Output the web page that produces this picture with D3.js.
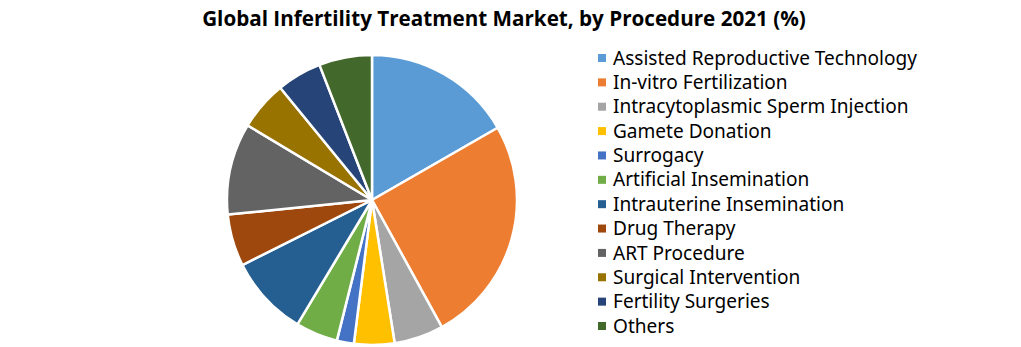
<!DOCTYPE html>
<html>
<head>
<meta charset="utf-8">
<script src="https://cdn.jsdelivr.net/npm/d3@7"></script>
<style>
  html, body { margin: 0; padding: 0; background: #fff; }
  svg { display: block; }
</style>
</head>
<body>
<svg id="chart" width="1021" height="347"></svg>
<script>
// Market share by procedure, 2021 (%)
const categories = [
  "Assisted Reproductive Technology",
  "In-vitro Fertilization",
  "Intracytoplasmic Sperm Injection",
  "Gamete Donation",
  "Surrogacy",
  "Artificial Insemination",
  "Intrauterine Insemination",
  "Drug Therapy",
  "ART Procedure",
  "Surgical Intervention",
  "Fertility Surgeries",
  "Others"
];
const shares = [16.7, 25.3, 5.5, 4.5, 1.9, 4.7, 9.0, 5.8, 10.2, 5.5, 5.0, 5.9];
const colors = ["#5B9BD5", "#ED7D31", "#A5A5A5", "#FFC000", "#4472C4", "#70AD47",
                "#255E91", "#9E480E", "#636363", "#997300", "#264478", "#43682B"];
const title = "Global Infertility Treatment Market, by Procedure 2021 (%)";

const data = categories.map((c, i) => ({ name: c, value: shares[i] }));
const svg = d3.select("#chart");

// Title
const t = svg.append("text")
  .attr("x", 504)
  .attr("y", 26)
  .attr("text-anchor", "middle")
  .attr("font-family", "'Open Sans', 'Noto Sans', sans-serif")
  .attr("font-weight", "bold")
  .attr("font-size", 20)
  .attr("fill", "#000")
  .text(title);
const tw = t.node().getComputedTextLength();
t.attr("font-size", 20 * 604 / tw);

// Pie
const color = d3.scaleOrdinal().domain(categories).range(colors);
const pie = d3.pie().value(d => d.value).sort(null);
const arc = d3.arc().innerRadius(0).outerRadius(145);

svg.append("g")
  .attr("transform", "translate(372,200)")
  .selectAll("path")
  .data(pie(data))
  .join("path")
  .attr("d", arc)
  .attr("fill", d => color(d.data.name))
  .attr("stroke", "#fff")
  .attr("stroke-width", 2.5)
  .attr("stroke-linejoin", "round");

// Legend
const legendY = d3.scalePoint().domain(categories).range([58, 326]);
const legend = svg.append("g");
const rows = legend.selectAll("g")
  .data(categories)
  .join("g")
  .attr("transform", d => `translate(0,${legendY(d)})`);
rows.append("rect")
  .attr("x", 598).attr("y", -4)
  .attr("width", 8).attr("height", 8)
  .attr("fill", d => color(d));
const labels = rows.append("text")
  .attr("x", 613)
  .attr("y", 0)
  .attr("dy", "0.35em")
  .attr("font-family", "'Noto Sans', sans-serif")
  .attr("font-size", 18)
  .attr("fill", "#000")
  .text(d => d);
const w0 = labels.nodes()[0].getComputedTextLength();
labels.attr("font-size", 18 * 304 / w0);
</script>
</body>
</html>
